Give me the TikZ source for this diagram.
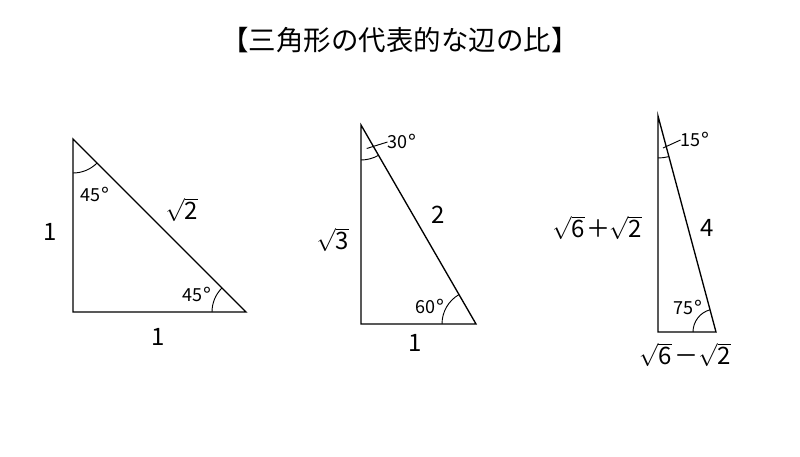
\documentclass[tikz,border=0pt]{standalone}
\usepackage{fontspec}
\setmainfont{Noto Sans CJK JP}
\tikzset{
  tri/.style={draw,line width=1pt,line join=miter},
  angarc/.style={line width=0.7pt},
  leader/.style={line width=0.7pt},
  sidelbl/.style={inner sep=0pt,font=\fontsize{18}{20}\selectfont},
  anglbl/.style={inner sep=0pt,font=\fontsize{13.5}{15}\selectfont},
}
\newcommand{\rt}[1]{$\sqrt{\mbox{#1}}$}
\newcommand{\dg}{\kern0.03em\raisebox{-1.5pt}{\fontsize{16}{16}\selectfont °}}
\begin{document}
\begin{tikzpicture}[x=0.75pt,y=0.75pt]
\useasboundingbox (0,0) rectangle (800,457);

% The title
\node[inner sep=0pt,font=\fontsize{20.6}{24}\selectfont] (title) at (400,417) {【三角形の代表的な辺の比】};

% The corners
\coordinate (A1) at (73,318);  \coordinate (B1) at (73,145);  \coordinate (C1) at (246,145);
\coordinate (A2) at (361,332); \coordinate (B2) at (361,133); \coordinate (C2) at (476,133);
\coordinate (A3) at (658,341); \coordinate (B3) at (658,125); \coordinate (C3) at (716,125);

% The triangles
\draw[tri] (A1) -- (B1) -- (C1) -- cycle;
\draw[tri] (A2) -- (B2) -- (C2) -- cycle;
\draw[tri] (A3) -- (B3) -- (C3) -- cycle;

% The angle arcs
\draw[angarc] (A1) ++(270:34) arc[start angle=270,end angle=315,radius=34];
\draw[angarc] (C1) ++(180:34) arc[start angle=180,end angle=135,radius=34];
\draw[angarc] (A2) ++(270:35) arc[start angle=270,end angle=300,radius=35];
\draw[angarc] (C2) ++(180:34) arc[start angle=180,end angle=120,radius=34];
\draw[angarc] (A3) ++(270:42) arc[start angle=270,end angle=285,radius=42];
\draw[angarc] (C3) ++(180:23) arc[start angle=180,end angle=105,radius=23];

% The sides
\node[sidelbl] (s1a) at (50,225) {1};
\node[sidelbl] (s1b) at (158,120) {1};
\node[sidelbl] (s1c) at (182,247) {\rt{2}};
\node[sidelbl] (s2a) at (333,217) {\rt{3}};
\node[sidelbl] (s2b) at (415,114) {1};
\node[sidelbl] (s2c) at (438,242) {2};
\node[sidelbl] (s3a) at (597,229) {\rt{6}\kern1pt＋\kern-1pt\rt{2}};
\node[sidelbl] (s3b) at (685,102) {\rt{6}\kern2pt－\kern0pt\rt{2}};
\node[sidelbl] (s3c) at (707,229) {4};

% The angles
\node[anglbl] (a45t) at (95,262) {45\dg};
\node[anglbl] (a45b) at (197,162) {45\dg};
\node[anglbl] (a30) at (402,315) {30\dg};
\node[anglbl] (a60) at (430,150) {60\dg};
\node[anglbl] (a15) at (695,317) {15\dg};
\node[anglbl] (a75) at (688,149) {75\dg};

% Leaders to the small angles
\coordinate (t30) at (366.7,308.5);
\coordinate (t15) at (663,309);
\draw[leader] (t30) -- (a30.west);
\draw[leader] (t15) -- (a15.west);

\end{tikzpicture}
\end{document}
